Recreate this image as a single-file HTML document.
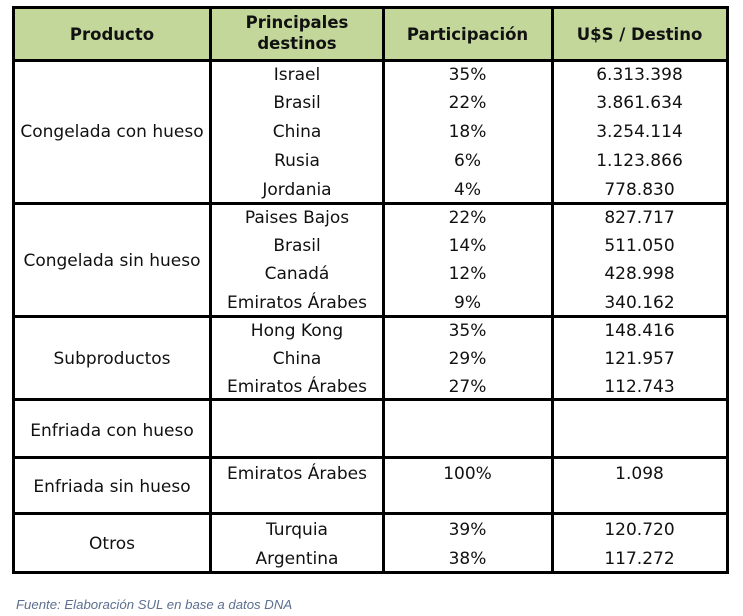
<!DOCTYPE html>
<html><head><meta charset="utf-8">
<style>
body{margin:0;width:743px;height:616px;background:#fff;position:relative;overflow:hidden;font-family:"DejaVu Sans","Liberation Sans",sans-serif;color:#111}
.l{position:absolute;background:#000}
.t{position:absolute;height:20px;line-height:22px;font-size:17px;text-align:center;white-space:nowrap}
.h{font-weight:bold;font-size:16.5px}
</style></head><body>
<div style="position:absolute;left:13px;top:7px;width:714px;height:53px;background:#c4d79b"></div>
<div class="l" style="left:12px;top:6px;width:717px;height:3px"></div>
<div class="l" style="left:12px;top:59px;width:717px;height:3px"></div>
<div class="l" style="left:12px;top:202px;width:717px;height:3px"></div>
<div class="l" style="left:12px;top:315px;width:717px;height:3px"></div>
<div class="l" style="left:12px;top:398px;width:717px;height:3px"></div>
<div class="l" style="left:12px;top:456px;width:717px;height:3px"></div>
<div class="l" style="left:12px;top:512px;width:717px;height:3px"></div>
<div class="l" style="left:12px;top:571px;width:717px;height:3px"></div>
<div class="l" style="left:12px;top:6px;width:3px;height:568px"></div>
<div class="l" style="left:209px;top:6px;width:3px;height:568px"></div>
<div class="l" style="left:382px;top:6px;width:3px;height:568px"></div>
<div class="l" style="left:551px;top:6px;width:3px;height:568px"></div>
<div class="l" style="left:726px;top:6px;width:3px;height:568px"></div>

<div class="t h" style="left:13px;width:198px;top:24px">Producto</div>
<div class="t h" style="left:211px;width:172px;top:12px;line-height:21px;height:42px">Principales<br>destinos</div>
<div class="t h" style="left:383px;width:169px;top:24px">Participación</div>
<div class="t h" style="left:552px;width:175px;top:24px">U$S / Destino</div>

<div class="t" style="left:13px;width:198px;top:121px">Congelada con hueso</div>
<div class="t" style="left:13px;width:198px;top:250px">Congelada sin hueso</div>
<div class="t" style="left:13px;width:198px;top:348px">Subproductos</div>
<div class="t" style="left:13px;width:198px;top:420px">Enfriada con hueso</div>
<div class="t" style="left:13px;width:198px;top:476px">Enfriada sin hueso</div>
<div class="t" style="left:13px;width:198px;top:533px">Otros</div>

<div>
<div class="t" style="left:211px;width:172px;top:64px">Israel</div><div class="t" style="left:383px;width:169px;top:64px">35%</div><div class="t" style="left:552px;width:175px;top:64px">6.313.398</div>
<div class="t" style="left:211px;width:172px;top:92px">Brasil</div><div class="t" style="left:383px;width:169px;top:92px">22%</div><div class="t" style="left:552px;width:175px;top:92px">3.861.634</div>
<div class="t" style="left:211px;width:172px;top:121px">China</div><div class="t" style="left:383px;width:169px;top:121px">18%</div><div class="t" style="left:552px;width:175px;top:121px">3.254.114</div>
<div class="t" style="left:211px;width:172px;top:150px">Rusia</div><div class="t" style="left:383px;width:169px;top:150px">6%</div><div class="t" style="left:552px;width:175px;top:150px">1.123.866</div>
<div class="t" style="left:211px;width:172px;top:179px">Jordania</div><div class="t" style="left:383px;width:169px;top:179px">4%</div><div class="t" style="left:552px;width:175px;top:179px">778.830</div>
<div class="t" style="left:211px;width:172px;top:207px">Paises Bajos</div><div class="t" style="left:383px;width:169px;top:207px">22%</div><div class="t" style="left:552px;width:175px;top:207px">827.717</div>
<div class="t" style="left:211px;width:172px;top:235px">Brasil</div><div class="t" style="left:383px;width:169px;top:235px">14%</div><div class="t" style="left:552px;width:175px;top:235px">511.050</div>
<div class="t" style="left:211px;width:172px;top:263px">Canadá</div><div class="t" style="left:383px;width:169px;top:263px">12%</div><div class="t" style="left:552px;width:175px;top:263px">428.998</div>
<div class="t" style="left:211px;width:172px;top:292px">Emiratos Árabes</div><div class="t" style="left:383px;width:169px;top:292px">9%</div><div class="t" style="left:552px;width:175px;top:292px">340.162</div>
<div class="t" style="left:211px;width:172px;top:320px">Hong Kong</div><div class="t" style="left:383px;width:169px;top:320px">35%</div><div class="t" style="left:552px;width:175px;top:320px">148.416</div>
<div class="t" style="left:211px;width:172px;top:348px">China</div><div class="t" style="left:383px;width:169px;top:348px">29%</div><div class="t" style="left:552px;width:175px;top:348px">121.957</div>
<div class="t" style="left:211px;width:172px;top:376px">Emiratos Árabes</div><div class="t" style="left:383px;width:169px;top:376px">27%</div><div class="t" style="left:552px;width:175px;top:376px">112.743</div>
<div class="t" style="left:211px;width:172px;top:463px">Emiratos Árabes</div><div class="t" style="left:383px;width:169px;top:463px">100%</div><div class="t" style="left:552px;width:175px;top:463px">1.098</div>
<div class="t" style="left:211px;width:172px;top:519px">Turquia</div><div class="t" style="left:383px;width:169px;top:519px">39%</div><div class="t" style="left:552px;width:175px;top:519px">120.720</div>
<div class="t" style="left:211px;width:172px;top:548px">Argentina</div><div class="t" style="left:383px;width:169px;top:548px">38%</div><div class="t" style="left:552px;width:175px;top:548px">117.272</div>
</div>

<div style="position:absolute;left:16px;top:597px;font-family:'Liberation Sans',sans-serif;font-style:italic;font-size:13.2px;color:#5b6f8f;white-space:nowrap">Fuente: Elaboración SUL en base a datos DNA</div>
</body></html>
